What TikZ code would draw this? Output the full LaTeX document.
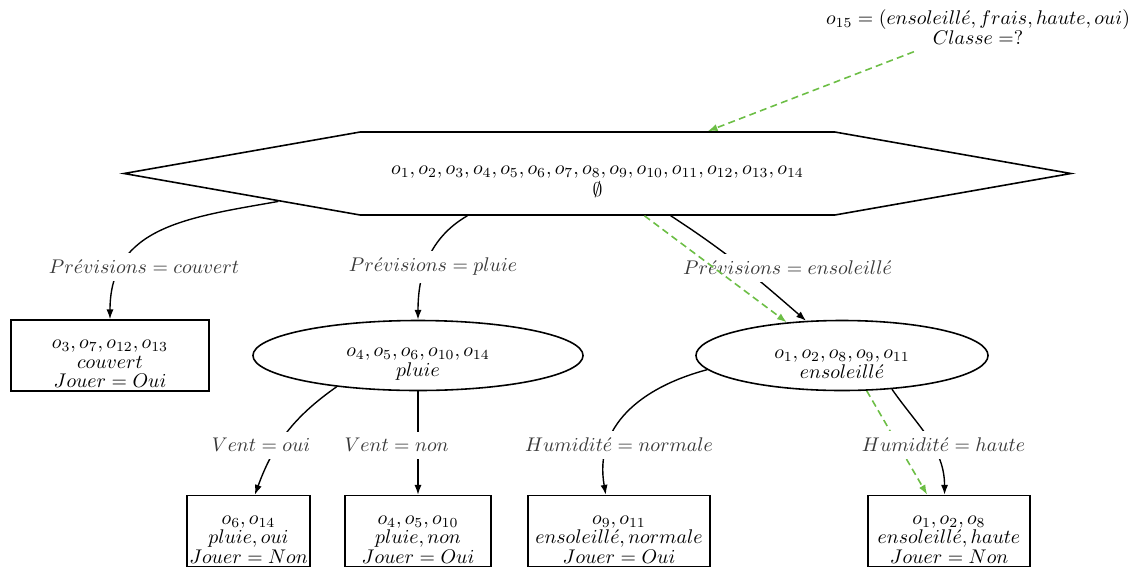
\documentclass[tikz,border=0pt]{standalone}
\usetikzlibrary{shapes.geometric,shapes.symbols,arrows.meta}
\definecolor{pathgreen}{RGB}{108,190,69}
% tall first row and tight rows inside the tree nodes
\newcommand{\tallrow}{\rule{0pt}{13pt}}
\newcommand{\brk}{\\[-2.2pt]}
\begin{document}
\begin{tikzpicture}[x=0.505pt,y=-0.505pt,
  >={Latex[length=5pt,width=3.6pt]},
  shapeline/.style={draw, line width=0.8pt},
  rootnode/.style={shapeline, shape=signal, signal to=west and east,
    signal pointer angle=19.94, minimum width=478.2pt, minimum height=41.9pt,
    inner sep=0pt, align=center},
  oval/.style={shapeline, ellipse, inner sep=0pt, align=center, minimum height=35.35pt},
  leaf/.style={shapeline, rectangle, align=center, inner xsep=1pt, inner ysep=1.6pt},
  edge/.style={->, line width=0.7pt},
  testpath/.style={->, pathgreen, line width=0.8pt, dash pattern=on 3.5pt off 2.2pt},
  cond/.style={fill=white, text=black!78, inner sep=3.4pt}]
\useasboundingbox (0,0) rectangle (1135,567);

% query and root
\node[align=center] (q15) at (978,27)
  {$o_{15} = (ensoleill\acute{e}, frais, haute, oui)$\\[-1.6pt]$Classe =?$};
\node[rootnode] (hex) at (597.5,173.5)
  {\tallrow$o_1, o_2, o_3, o_4, o_5, o_6, o_7, o_8, o_9, o_{10}, o_{11}, o_{12}, o_{13}, o_{14}$\\[-0.9pt]$\emptyset$};

% first level
\node[leaf, minimum width=100pt] (couv) at (110,355.5)
  {\tallrow$o_3, o_7, o_{12}, o_{13}$\brk$couvert$\brk$Jouer = Oui$};
\node[oval, minimum width=166.7pt] (pluie) at (418,355.5)
  {\tallrow$o_4, o_5, o_6, o_{10}, o_{14}$\brk$pluie$};
\node[oval, minimum width=147.5pt] (ens) at (842,355.5)
  {\tallrow$o_1, o_2, o_8, o_9, o_{11}$\brk$ensoleill\acute{e}$};

% leaves
\node[leaf, minimum width=62.1pt] (b1) at (248.5,531)
  {\tallrow$o_6, o_{14}$\brk$pluie, oui$\brk$Jouer = Non$};
\node[leaf, minimum width=73.7pt] (b2) at (418,531)
  {\tallrow$o_4, o_5, o_{10}$\brk$pluie, non$\brk$Jouer = Oui$};
\node[leaf, minimum width=91.9pt] (b3) at (619,531)
  {\tallrow$o_9, o_{11}$\brk$ensoleill\acute{e}, normale$\brk$Jouer = Oui$};
\node[leaf, minimum width=81.8pt] (b4) at (949,531)
  {\tallrow$o_1, o_2, o_8$\brk$ensoleill\acute{e}, haute$\brk$Jouer = Non$};

% branches
\draw[edge] (hex.185) to[out=190, in=90, looseness=1.15] (couv.north);
\draw[edge] (hex.198) to[out=210, in=90] (pluie.north);
\draw[edge] (hex.330) to[out=327, in=139] (ens.136);
\draw[edge] (pluie.201) to[out=215, in=70] (b1.80);
\draw[edge] (pluie) -- (b2);
\draw[edge] (ens.186) to[out=195, in=100, looseness=1.1] (b3.110);
\draw[edge] (ens.326) to[out=305, in=90] (b4.97);
\draw[testpath] (ens.305) -- (b4.121);

% branch conditions
\node[cond] (c1) at (144,267) {$Pr\acute{e}visions = couvert$};
\node[cond] (c2) at (433,267) {$Pr\acute{e}visions = pluie$};
\node[cond] (c3) at (787.5,268) {$Pr\acute{e}visions = ensoleill\acute{e}$};
\node[cond] (c4) at (261,445) {$Vent = oui$};
\node[cond] (c5) at (396.5,445) {$Vent = non$};
\node[cond] (c6) at (619,445) {$Humidit\acute{e} = normale$};
\node[cond] (c7) at (943.5,445) {$Humidit\acute{e} = haute$};

% classification path of the query
\draw[testpath] (q15) -- (hex.21);
\draw[testpath] (hex.318) -- (ens.149);
\end{tikzpicture}
\end{document}
